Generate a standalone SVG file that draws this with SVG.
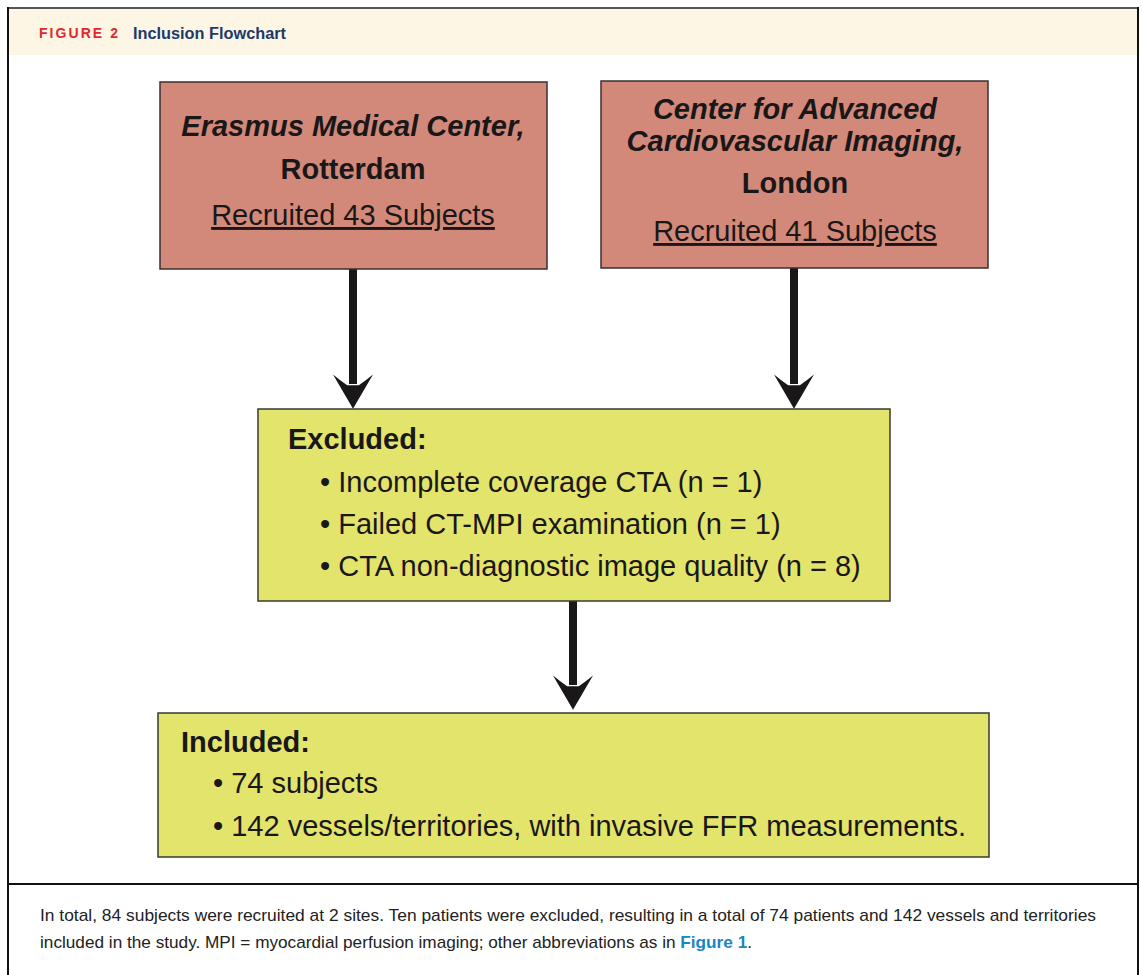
<svg xmlns="http://www.w3.org/2000/svg" width="1142" height="975" viewBox="0 0 1142 975">
<defs>
<style>
.site{fill:#D3897A;stroke:#3a3030;stroke-width:1.5}
.yel{fill:#E2E46C;stroke:#3a3a30;stroke-width:1.5}
.t{font-family:"Liberation Sans",Arial,sans-serif;font-size:29px;fill:#1a1718}
.bi{font-weight:bold;font-style:italic}
.b{font-weight:bold}
.u{text-decoration:underline}
.shaft{stroke:#1a1718;stroke-width:8;fill:none}
.cap{font-family:"Liberation Sans",Arial,sans-serif;font-size:17px;fill:#222}
</style>
<marker id="head" markerUnits="userSpaceOnUse" markerWidth="40" markerHeight="40" viewBox="0 0 30 34" refX="8" refY="17" orient="auto" overflow="visible">
<path d="M0,0 Q5,6 9,12 L9,22 Q5,28 0,34 L29,17 Z" fill="#1a1718"/>
</marker>
</defs>
<rect x="0" y="0" width="1142" height="975" fill="#ffffff"/>
<g id="frame">
<rect x="9" y="9" width="1128" height="46" fill="#FEF6E4"/>
<line x1="7" y1="8" x2="1139" y2="8" stroke="#555" stroke-width="2"/>
<line x1="8" y1="7" x2="8" y2="975" stroke="#111" stroke-width="2"/>
<line x1="1138" y1="7" x2="1138" y2="975" stroke="#111" stroke-width="2"/>
<line x1="8" y1="884" x2="1138" y2="884" stroke="#111" stroke-width="2"/>
<text x="39" y="38" font-family="Liberation Sans,Arial,sans-serif" font-size="14" font-weight="bold" fill="#E0282E" letter-spacing="2" textLength="81" lengthAdjust="spacing">FIGURE 2</text>
<text x="133" y="39" font-family="Liberation Sans,Arial,sans-serif" font-size="16" font-weight="bold" fill="#1B3A6B" textLength="153" lengthAdjust="spacingAndGlyphs">Inclusion Flowchart</text>
</g>
<g id="connectors">
<line class="shaft" x1="353" y1="269" x2="353" y2="384" marker-end="url(#head)"/>
<line class="shaft" x1="794" y1="268" x2="794" y2="384" marker-end="url(#head)"/>
<line class="shaft" x1="573" y1="601" x2="573" y2="685" marker-end="url(#head)"/>
</g>
<g id="erasmus">
<rect class="site" x="160" y="82" width="387" height="187"/>
<text class="t bi" x="353" y="136" text-anchor="middle">Erasmus Medical Center,</text>
<text class="t b" x="353" y="179" text-anchor="middle">Rotterdam</text>
<text class="t u" x="353" y="225" text-anchor="middle">Recruited 43 Subjects</text>
</g>
<g id="london">
<rect class="site" x="601" y="81" width="387" height="187"/>
<text class="t bi" x="795" y="119" text-anchor="middle">Center for Advanced</text>
<text class="t bi" x="795" y="151" text-anchor="middle">Cardiovascular Imaging,</text>
<text class="t b" x="795" y="193" text-anchor="middle">London</text>
<text class="t u" x="795" y="241" text-anchor="middle">Recruited 41 Subjects</text>
</g>
<g id="excluded">
<rect class="yel" x="258" y="409" width="632" height="192"/>
<text class="t b" x="288" y="449">Excluded:</text>
<text class="t" x="320" y="492">• Incomplete coverage CTA (n = 1)</text>
<text class="t" x="320" y="534">• Failed CT-MPI examination (n = 1)</text>
<text class="t" x="320" y="576">• CTA non-diagnostic image quality (n = 8)</text>
</g>
<g id="included">
<rect class="yel" x="158" y="713" width="831" height="144"/>
<text class="t b" x="181" y="752">Included:</text>
<text class="t" x="213" y="793">• 74 subjects</text>
<text class="t" x="213" y="836">• 142 vessels/territories, with invasive FFR measurements.</text>
</g>
<g id="caption">
<text class="cap" x="40" y="921" textLength="1056" lengthAdjust="spacingAndGlyphs">In total, 84 subjects were recruited at 2 sites. Ten patients were excluded, resulting in a total of 74 patients and 142 vessels and territories</text>
<text class="cap" x="40" y="948" textLength="712" lengthAdjust="spacingAndGlyphs">included in the study. MPI = myocardial perfusion imaging; other abbreviations as in <tspan fill="#1A86BF" font-weight="bold">Figure 1</tspan>.</text>
</g>
</svg>
